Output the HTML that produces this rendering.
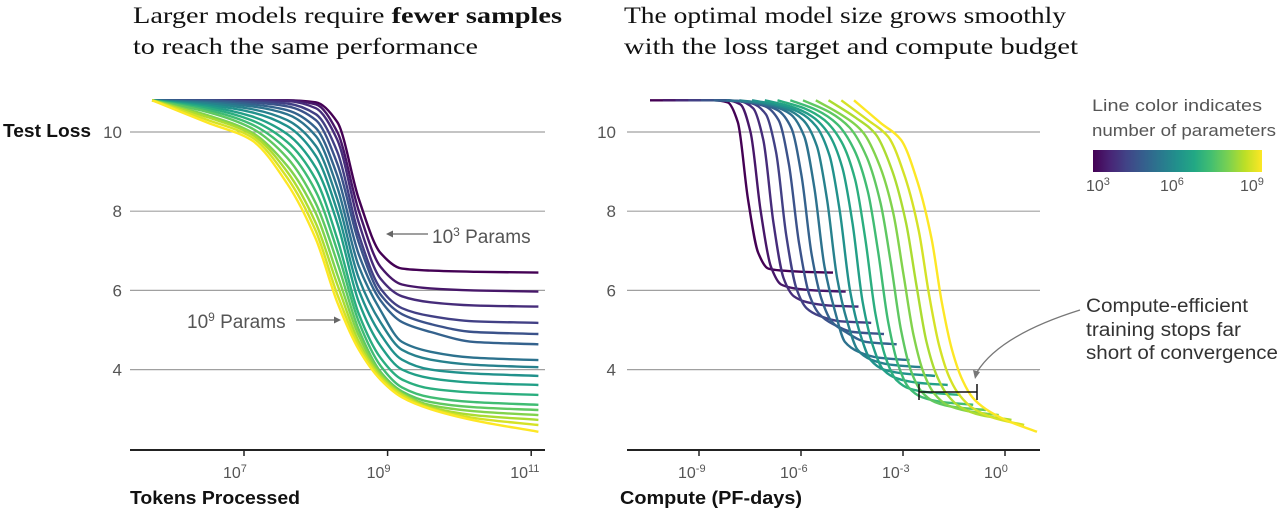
<!DOCTYPE html>
<html><head><meta charset="utf-8"><style>
body{margin:0;background:#fff;}
svg{display:block;font-family:"Liberation Sans",sans-serif;}
.serif{font-family:"Liberation Serif",serif;}
</style></head><body>
<svg id="c" width="1280" height="512" viewBox="0 0 1280 512">
<g class="serif" font-size="23" fill="#111">
<text x="133" y="23" textLength="429" lengthAdjust="spacingAndGlyphs">Larger models require <tspan font-weight="bold">fewer samples</tspan></text>
<text x="133" y="54" textLength="345" lengthAdjust="spacingAndGlyphs">to reach the same performance</text>
<text x="624" y="23" textLength="442" lengthAdjust="spacingAndGlyphs">The optimal model size grows smoothly</text>
<text x="624" y="54" textLength="454" lengthAdjust="spacingAndGlyphs">with the loss target and compute budget</text>
</g>
<g id="left"></g>
<g id="right"></g>
<text x="3" y="137" font-size="18" font-weight="bold" fill="#111" textLength="88" lengthAdjust="spacingAndGlyphs">Test Loss</text>
<text x="130" y="504" font-size="18" font-weight="bold" fill="#111" textLength="170" lengthAdjust="spacingAndGlyphs">Tokens Processed</text>
<text x="620" y="504" font-size="18" font-weight="bold" fill="#111" textLength="182" lengthAdjust="spacingAndGlyphs">Compute (PF-days)</text>
<g fill="#555" font-size="19">
<text x="432" y="243">10<tspan font-size="12" dy="-7">3</tspan><tspan dy="7"> Params</tspan></text>
<line x1="428" y1="234" x2="390" y2="234" stroke="#666" stroke-width="1.3"/>
<path d="M386,234 l7,-3.5 l0,7 z" fill="#666"/>
<text x="187" y="328">10<tspan font-size="12" dy="-7">9</tspan><tspan dy="7"> Params</tspan></text>
<line x1="296" y1="320" x2="336" y2="320" stroke="#666" stroke-width="1.3"/>
<path d="M341,320 l-7,-3.5 l0,7 z" fill="#666"/>
</g>
<g>
<defs><linearGradient id="vg" x1="0" x2="1" y1="0" y2="0">
<stop offset="0" stop-color="#440154"/><stop offset="0.1" stop-color="#482475"/><stop offset="0.2" stop-color="#414487"/><stop offset="0.3" stop-color="#355f8d"/><stop offset="0.4" stop-color="#2a788e"/><stop offset="0.5" stop-color="#21918c"/><stop offset="0.6" stop-color="#22a884"/><stop offset="0.7" stop-color="#44bf70"/><stop offset="0.8" stop-color="#7ad151"/><stop offset="0.9" stop-color="#bddf26"/><stop offset="1" stop-color="#fde725"/>
</linearGradient></defs>
<text x="1092" y="111" font-size="17" fill="#555" textLength="170" lengthAdjust="spacingAndGlyphs">Line color indicates</text>
<text x="1092" y="136" font-size="17" fill="#555" textLength="184" lengthAdjust="spacingAndGlyphs">number of parameters</text>
<rect x="1093" y="150" width="169" height="22" fill="url(#vg)"/>
<g font-size="16" fill="#555">
<text x="1086" y="191">10<tspan font-size="11" dy="-6">3</tspan></text>
<text x="1160" y="191">10<tspan font-size="11" dy="-6">6</tspan></text>
<text x="1240" y="191">10<tspan font-size="11" dy="-6">9</tspan></text>
</g>
</g>
<g>
<g font-size="19" fill="#333">
<text x="1086" y="312" textLength="162" lengthAdjust="spacingAndGlyphs">Compute-efficient</text>
<text x="1086" y="336" textLength="155" lengthAdjust="spacingAndGlyphs">training stops far</text>
<text x="1086" y="359" textLength="192" lengthAdjust="spacingAndGlyphs">short of convergence</text>
</g>
<path d="M1080,310 Q1000,335 977,372" fill="none" stroke="#777" stroke-width="1.3"/>
<path d="M975,379 l-2,-9 l7,2 z" fill="#777"/>
<g stroke="#111" stroke-width="1.5">
<line x1="919" y1="392" x2="977" y2="392"/><line x1="919" y1="384" x2="919" y2="400"/><line x1="977" y1="384" x2="977" y2="400"/>
</g>
</g>
</svg>
<script>
// sample points in log10(tokens)
const logTokens = [5.72,6.5,7.1,7.6,8.0,8.3,8.6,8.9,9.2,9.6,10.2,11.1];
// log10(params) per curve
const logParams = [3,3.375,3.75,4.125,4.5,4.875,5.25,5.625,6,6.375,6.75,7.125,7.5,7.875,8.25,8.625,9];
const loss0=[10.8,10.8,10.8,10.8,10.75,10.25,8.3,6.95,6.55,6.5,6.47,6.45];
const loss1=[10.8,10.8,10.8,10.8,10.7,10.0,8.0,6.6,6.15,6.05,6.0,5.97];
const loss2=[10.8,10.8,10.8,10.78,10.6,9.8,7.7,6.3,5.85,5.7,5.62,5.59];
const loss3=[10.8,10.8,10.78,10.72,10.45,9.5,7.4,6.05,5.55,5.35,5.22,5.18];
const loss4=[10.8,10.8,10.75,10.65,10.3,9.2,7.2,5.9,5.4,5.15,4.95,4.90];
const loss5=[10.8,10.78,10.7,10.55,10.1,8.9,6.9,5.75,5.2,4.95,4.7,4.64];
const loss6=[10.8,10.75,10.65,10.45,9.9,8.6,6.6,5.5,4.7,4.45,4.3,4.24];
const loss7=[10.8,10.72,10.58,10.3,9.65,8.3,6.3,5.2,4.5,4.25,4.12,4.06];
const loss8=[10.8,10.68,10.5,10.15,9.4,8.0,6.0,4.9,4.25,4.0,3.9,3.84];
const loss9=[10.8,10.64,10.4,9.95,9.1,7.7,5.7,4.6,4.0,3.78,3.67,3.61];
const loss10=[10.8,10.6,10.3,9.75,8.8,7.3,5.4,4.3,3.75,3.52,3.42,3.36];
const loss11=[10.8,10.55,10.2,9.55,8.5,7.0,5.2,4.1,3.55,3.3,3.18,3.11];
const loss12=[10.8,10.5,10.1,9.35,8.2,6.7,5.0,3.95,3.45,3.18,3.05,2.98];
const loss13=[10.8,10.42,10.0,9.15,7.95,6.4,4.85,3.9,3.4,3.1,2.95,2.85];
const loss14=[10.8,10.37,9.95,9.0,7.7,6.15,4.7,3.85,3.38,3.05,2.85,2.73];
const loss15=[10.8,10.3,9.88,8.85,7.5,5.9,4.6,3.8,3.35,3.02,2.78,2.60];
const loss16=[10.8,10.23,9.8,8.7,7.3,5.7,4.5,3.75,3.3,3.0,2.72,2.43];
const lossSeries=[loss0,loss1,loss2,loss3,loss4,loss5,loss6,loss7,loss8,loss9,loss10,loss11,loss12,loss13,loss14,loss15,loss16];
const yTicks=[10,8,6,4];
const leftXTicks=[7,9,11];
const rightXTicks=[-9,-6,-3,0];
const PF_OFFSET=-19.16; // log10(6/8.64e19)

const NS="http://www.w3.org/2000/svg";
const yScale=L=>132+(10-L)*39.6;
const xLeft=l=>244+(l-7)*71.8;
const xRight=l=>699+(l+9)*34;
const vir=["#440154","#482475","#414487","#355f8d","#2a788e","#21918c","#22a884","#44bf70","#7ad151","#bddf26","#fde725"];
function hex(h){return [1,3,5].map(i=>parseInt(h.substr(i,2),16));}
function viridis(t){const p=t*10,i=Math.min(9,Math.floor(p)),f=p-i;const a=hex(vir[i]),b=hex(vir[i+1]);return "rgb("+a.map((v,k)=>Math.round(v+(b[k]-v)*f)).join(",")+")";}
function mk(tag,attrs,parent){const e=document.createElementNS(NS,tag);for(const k in attrs)e.setAttribute(k,attrs[k]);parent.appendChild(e);return e;}
function monotone(pts){
 const n=pts.length,dx=[],s=[],m=[];
 for(let i=0;i<n-1;i++){dx[i]=pts[i+1][0]-pts[i][0];s[i]=(pts[i+1][1]-pts[i][1])/dx[i];}
 m[0]=s[0];m[n-1]=s[n-2];
 for(let i=1;i<n-1;i++){m[i]=(s[i-1]*s[i]<=0)?0:(3*(dx[i-1]+dx[i]))/((2*dx[i]+dx[i-1])/s[i-1]+(dx[i]+2*dx[i-1])/s[i]);}
 let d="M"+pts[0][0].toFixed(1)+","+pts[0][1].toFixed(1);
 for(let i=0;i<n-1;i++){const h=dx[i]/3;d+="C"+(pts[i][0]+h).toFixed(1)+","+(pts[i][1]+m[i]*h).toFixed(1)+" "+(pts[i+1][0]-h).toFixed(1)+","+(pts[i+1][1]-m[i+1]*h).toFixed(1)+" "+pts[i+1][0].toFixed(1)+","+pts[i+1][1].toFixed(1);}
 return d;
}
function axes(g,x0,x1,ticks,xs,labelX){
 yTicks.forEach(v=>{
  const gl=mk("line",{x1:x0,x2:x1,y1:yScale(v),y2:yScale(v),stroke:"#a0a0a0","stroke-width":1.2},g);
  
  
  const t=mk("text",{x:labelX,y:yScale(v)+6,"text-anchor":"end","font-size":17,fill:"#555"},g);
  t.textContent=v;
  
  
 });
 const ax=mk("line",{x1:x0,x2:x1,y1:450,y2:450,stroke:"#222","stroke-width":2},g);
 
 
 ticks.forEach(v=>{
  const x=xs(v);
  const tk=mk("line",{x1:x,x2:x,y1:450,y2:456,stroke:"#222","stroke-width":1.5},g);
  
  
  const t=mk("text",{x:x-21,y:478,"font-size":16,fill:"#555"},g);
  t.innerHTML='10<tspan font-size="11" dy="-6">'+v+'</tspan>';
  
  
 });
}
const L=document.getElementById("left"),R=document.getElementById("right");
axes(L,130,545,leftXTicks,xLeft,122);
axes(R,627,1040,rightXTicks,xRight,616);
lossSeries.forEach((ser,i)=>{
 const col=viridis(i/(lossSeries.length-1));
 const pl=logTokens.map((t,k)=>[xLeft(t),yScale(ser[k])]);
 const p1=mk("path",{d:monotone(pl),fill:"none",stroke:col,"stroke-width":2.4,"stroke-linejoin":"round"},L);
 
 
});
lossSeries.forEach((ser,i)=>{
 const col=viridis(i/(lossSeries.length-1));
 const pr=logTokens.map((t,k)=>[xRight(t+logParams[i]+PF_OFFSET),yScale(ser[k])]);
 const p2=mk("path",{d:monotone(pr),fill:"none",stroke:col,"stroke-width":2.4,"stroke-linejoin":"round"},R);
 
 
});
</script>
</body></html>
